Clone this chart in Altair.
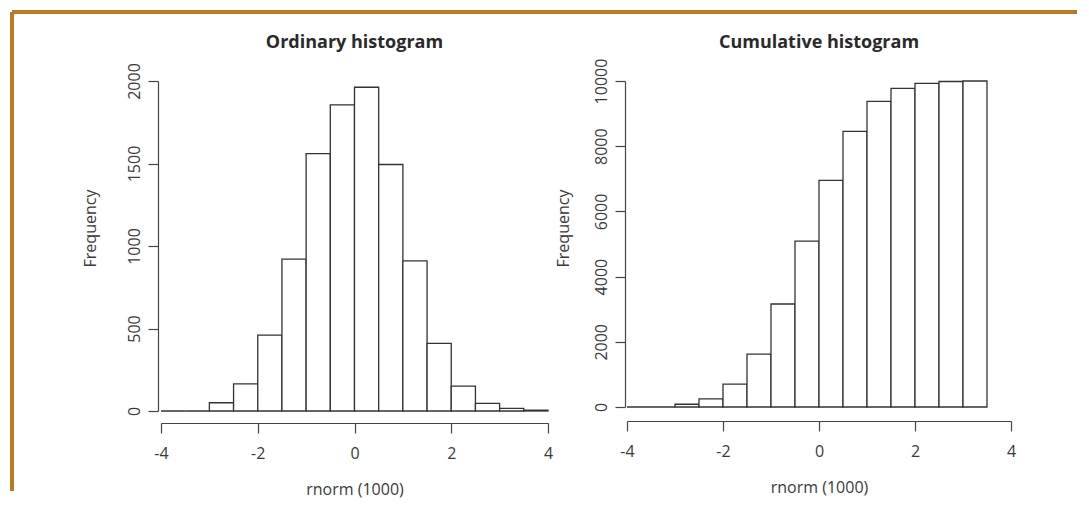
import altair as alt
import pandas as pd

# ---------------- data ----------------
# Ordinary histogram: bins of width 0.5 from -4 to 4
ord_bin_start = [-4.0, -3.5, -3.0, -2.5, -2.0, -1.5, -1.0, -0.5, 0.0, 0.5, 1.0, 1.5, 2.0, 2.5, 3.0, 3.5]
ord_counts = [0, 0, 50, 165, 460, 920, 1560, 1855, 1962, 1494, 910, 410, 151, 46, 16, 5]

# Cumulative histogram: bins of width 0.5 from -4 to 3.5
cum_bin_start = [-4.0, -3.5, -3.0, -2.5, -2.0, -1.5, -1.0, -0.5, 0.0, 0.5, 1.0, 1.5, 2.0, 2.5, 3.0]
cum_counts = [0, 0, 84, 248, 703, 1621, 3160, 5086, 6954, 8452, 9375, 9775, 9929, 9985, 10000]

bin_width = 0.5
x_ticks = [-4, -2, 0, 2, 4]
ord_y_ticks = [0, 500, 1000, 1500, 2000]
cum_y_ticks = [0, 2000, 4000, 6000, 8000, 10000]

titles = ["Ordinary histogram", "Cumulative histogram"]
x_title = "rnorm (1000)"
y_title = "Frequency"

FONT = "Open Sans"
TEXT = "#3a3a3a"
AXIS = "#444444"
GOLD = "#B87B20"


def make_df(starts, counts):
    return pd.DataFrame({
        "start": starts,
        "end": [s + bin_width for s in starts],
        "count": counts,
    })


def panel(df, title, ymax, yticks, width, height, yoff, xoff, ytitle_x, frame=False):
    bars = alt.Chart(df).mark_rect(
        fill="white", stroke="#333333", strokeWidth=1.3
    ).encode(
        x=alt.X(
            "start:Q",
            scale=alt.Scale(domain=[-4, 4], nice=False, zero=False),
            axis=alt.Axis(
                values=x_ticks, offset=xoff, tickSize=10, grid=False,
                domainColor=AXIS, tickColor=AXIS, domainWidth=1.2, tickWidth=1.2,
                labelFont=FONT, labelFontSize=16, labelColor=TEXT,
                labelBaseline="alphabetic", labelPadding=25, labelFlush=False,
                labelOverlap=False, labelExpr="'' + datum.value",
                title=x_title, titleFont=FONT, titleFontSize=16,
                titleFontWeight="normal", titleColor=TEXT,
                titleBaseline="alphabetic", titleY=71,
            ),
        ),
        x2="end:Q",
        y=alt.Y(
            "count:Q",
            scale=alt.Scale(domain=[0, ymax], nice=False),
            axis=alt.Axis(
                values=yticks, offset=yoff, tickSize=10, grid=False,
                domainColor=AXIS, tickColor=AXIS, domainWidth=1.2, tickWidth=1.2,
                labelFont=FONT, labelFontSize=16, labelColor=TEXT,
                labelAngle=270, labelAlign="center", labelBaseline="alphabetic",
                labelPadding=9, labelFlush=False, labelOverlap=False,
                labelExpr="'' + datum.value",
                title=y_title, titleFont=FONT, titleFontSize=16,
                titleFontWeight="normal", titleColor=TEXT,
                titleAngle=270, titleAlign="center", titleBaseline="alphabetic",
                titleX=ytitle_x, titleY=147,
            ),
        ),
        y2=alt.datum(0),
    )
    one = pd.DataFrame({"k": [0]})
    head = alt.Chart(one).mark_text(
        text=title, font=FONT, fontSize=18, fontWeight="bold", color="#2a2a2a",
        align="center", baseline="alphabetic",
    ).encode(x=alt.value(width / 2), y=alt.value(-33))
    layers = [bars, head]
    if frame:
        top = alt.Chart(one).mark_rule(color=GOLD, strokeWidth=4, strokeCap="butt").encode(
            x=alt.value(-149), x2=alt.value(916), y=alt.value(-69)
        )
        left = alt.Chart(one).mark_rule(color=GOLD, strokeWidth=4, strokeCap="butt").encode(
            x=alt.value(-149), y=alt.value(-69), y2=alt.value(410)
        )
        layers += [top, left]
    return alt.layer(*layers).properties(width=width, height=height)


left_panel = panel(make_df(ord_bin_start, ord_counts), titles[0], 2000, ord_y_ticks,
                   387, 330, 3, 12, -63, frame=True)
right_panel = panel(make_df(cum_bin_start, cum_counts), titles[1], 10000, cum_y_ticks,
                    384, 326, 2, 14, -57)

chart = alt.hconcat(left_panel, right_panel, spacing=79, bounds="flush").properties(
    padding={"left": 2, "top": 2, "right": 0, "bottom": 1},
    background="white",
).configure_view(strokeWidth=0)

chart.save("out.html", embed_options={"renderer": "svg", "actions": False})
